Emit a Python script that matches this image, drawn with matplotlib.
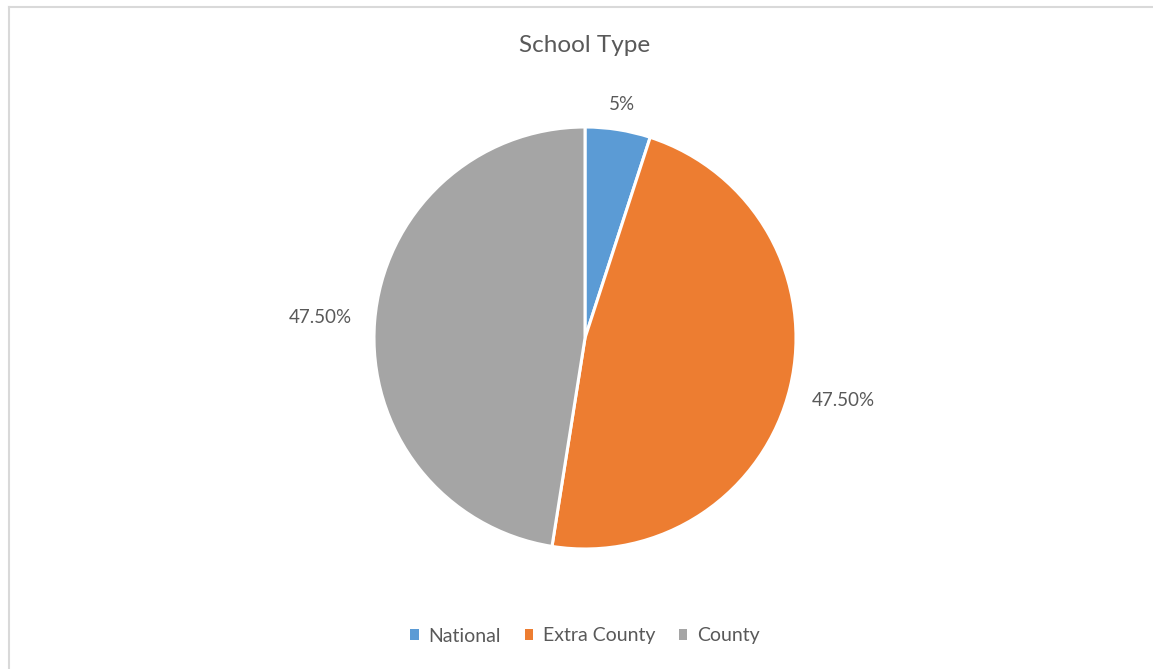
import matplotlib.pyplot as plt
import numpy as np
from matplotlib.lines import Line2D
from matplotlib.patches import Patch

categories = ['National', 'Extra County', 'County']
shares = [5.0, 47.5, 47.5]
pct_labels = ['5%', '47.50%', '47.50%']
colors = ['#5B9BD5', '#ED7D31', '#A5A5A5']
label_dist = [1.12, 1.26, 1.26]

text_color = '#595959'
plt.rcParams['font.family'] = ['Lato', 'DejaVu Sans']

W, H = 1153, 669
fig = plt.figure(figsize=(W / 100, H / 100), dpi=100)

# pie area in pixels: center (585, 338), radius 211
cx, cy, r = 585, 338, 211
ax = fig.add_axes([(cx - r) / W, (H - cy - r) / H, 2 * r / W, 2 * r / H])

wedges, texts = ax.pie(shares, colors=colors, startangle=90, counterclock=False,
                       radius=1.0,
                       wedgeprops=dict(edgecolor='white', linewidth=2.2))
ax.set_xlim(-1, 1)
ax.set_ylim(-1, 1)
ax.set_aspect('equal')
ax.axis('off')

for w, lab, d in zip(wedges, pct_labels, label_dist):
    ang = np.deg2rad((w.theta1 + w.theta2) / 2)
    ax.text(d * np.cos(ang), d * np.sin(ang), lab, ha='center', va='center',
            fontsize=13.5, color=text_color, clip_on=False)

fig.text(cx / W, 1 - 45 / H, 'School Type', ha='center', va='center',
         fontsize=17.5, color=text_color)

handles = [Patch(facecolor=c, edgecolor='none') for c in colors]
fig.legend(handles, categories, loc='center', bbox_to_anchor=(cx / W, 1 - 636 / H),
           ncol=3, frameon=False, handlelength=0.45, handleheight=0.45,
           handletextpad=0.5, columnspacing=1.2, labelcolor=text_color,
           prop={'size': 14})

# chart border (top and left visible)
fig.add_artist(Line2D([8.5 / W, 1], [1 - 6.5 / H, 1 - 6.5 / H], color='#D9D9D9', lw=1.5))
fig.add_artist(Line2D([8.5 / W, 8.5 / W], [0, 1 - 6.5 / H], color='#D9D9D9', lw=1.5))

fig.savefig('out.png', dpi=100, facecolor='white')
